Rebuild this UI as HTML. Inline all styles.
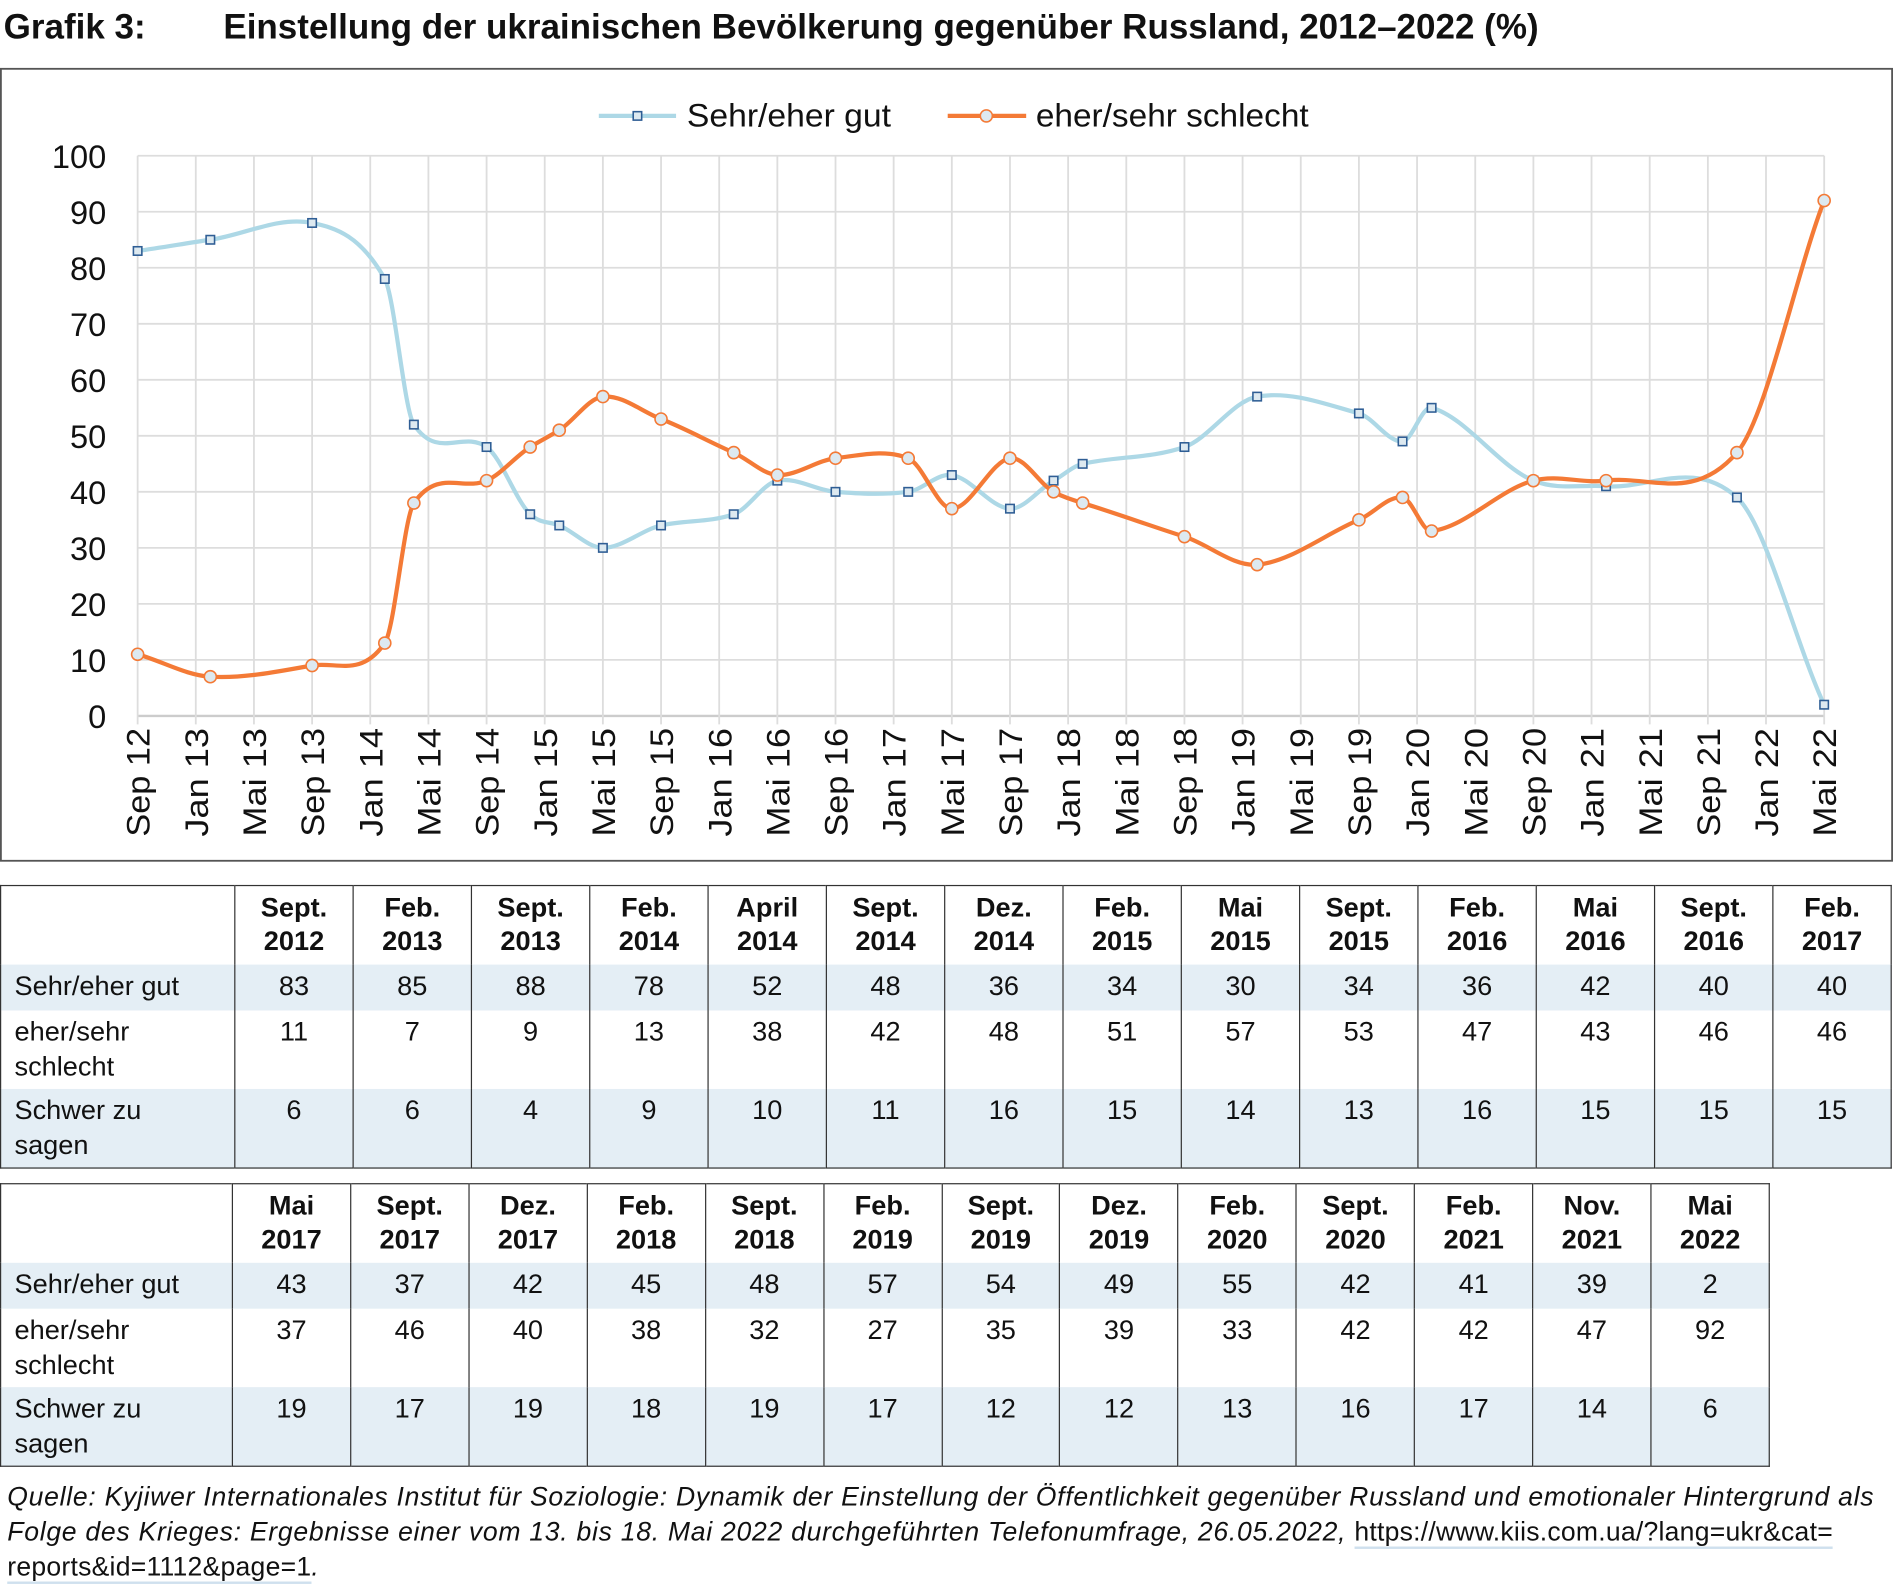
<!DOCTYPE html>
<html><head><meta charset="utf-8">
<style>
html,body{margin:0;padding:0;background:#fff;}
body{width:1893px;height:1594px;overflow:hidden;}
#w{width:1568px;height:1320px;transform:scale(1.20727);transform-origin:0 0;position:relative;font-family:"Liberation Sans",sans-serif;color:#111;}
.t{position:absolute;white-space:nowrap;}
table{position:absolute;border-collapse:collapse;font-size:22.5px;table-layout:fixed;}
td{border-left:1.5px solid #333;text-align:center;vertical-align:top;padding:3px 0 0 0;line-height:29px;}
td:first-child{text-align:left;padding-left:11px;border-left:none;}
tr.h td{font-weight:bold;height:61px;line-height:28px;padding-top:4px;}
tr.b td{background:#e4eef5;}
</style></head><body><div id="w">
<div class="t" style="left:3px;top:7px;font-size:29px;font-weight:bold;">Grafik 3:</div>
<div class="t" style="left:185px;top:7px;font-size:29px;font-weight:bold;">Einstellung der ukrainischen Bevölkerung gegenüber Russland, 2012–2022 (%)</div>
<svg id="c" style="position:absolute;left:0;top:0" width="1568" height="720"></svg>

<table style="left:0;top:733px;width:1567px;border:1.5px solid #333;">
<colgroup><col style="width:194px"><col span="14"></colgroup>
<tr class="h"><td></td><td>Sept.<br>2012</td><td>Feb.<br>2013</td><td>Sept.<br>2013</td><td>Feb.<br>2014</td><td>April<br>2014</td><td>Sept.<br>2014</td><td>Dez.<br>2014</td><td>Feb.<br>2015</td><td>Mai<br>2015</td><td>Sept.<br>2015</td><td>Feb.<br>2016</td><td>Mai<br>2016</td><td>Sept.<br>2016</td><td>Feb.<br>2017</td></tr>
<tr class="b"><td style="height:35px">Sehr/eher gut</td><td>83</td><td>85</td><td>88</td><td>78</td><td>52</td><td>48</td><td>36</td><td>34</td><td>30</td><td>34</td><td>36</td><td>42</td><td>40</td><td>40</td></tr>
<tr><td style="height:62px">eher/sehr<br>schlecht</td><td>11</td><td>7</td><td>9</td><td>13</td><td>38</td><td>42</td><td>48</td><td>51</td><td>57</td><td>53</td><td>47</td><td>43</td><td>46</td><td>46</td></tr>
<tr class="b"><td style="height:62px">Schwer zu<br>sagen</td><td>6</td><td>6</td><td>4</td><td>9</td><td>10</td><td>11</td><td>16</td><td>15</td><td>14</td><td>13</td><td>16</td><td>15</td><td>15</td><td>15</td></tr>
</table>

<table style="left:0;top:980px;width:1466px;border:1.5px solid #333;">
<colgroup><col style="width:192px"><col span="13"></colgroup>
<tr class="h"><td></td><td>Mai<br>2017</td><td>Sept.<br>2017</td><td>Dez.<br>2017</td><td>Feb.<br>2018</td><td>Sept.<br>2018</td><td>Feb.<br>2019</td><td>Sept.<br>2019</td><td>Dez.<br>2019</td><td>Feb.<br>2020</td><td>Sept.<br>2020</td><td>Feb.<br>2021</td><td>Nov.<br>2021</td><td>Mai<br>2022</td></tr>
<tr class="b"><td style="height:35px">Sehr/eher gut</td><td>43</td><td>37</td><td>42</td><td>45</td><td>48</td><td>57</td><td>54</td><td>49</td><td>55</td><td>42</td><td>41</td><td>39</td><td>2</td></tr>
<tr><td style="height:62px">eher/sehr<br>schlecht</td><td>37</td><td>46</td><td>40</td><td>38</td><td>32</td><td>27</td><td>35</td><td>39</td><td>33</td><td>42</td><td>42</td><td>47</td><td>92</td></tr>
<tr class="b"><td style="height:62px">Schwer zu<br>sagen</td><td>19</td><td>17</td><td>19</td><td>18</td><td>19</td><td>17</td><td>12</td><td>12</td><td>13</td><td>16</td><td>17</td><td>14</td><td>6</td></tr>
</table>

<div class="t" style="left:6px;top:1225px;font-size:22px;font-style:italic;line-height:29px;letter-spacing:0.6px;">Quelle: Kyjiwer Internationales Institut für Soziologie: Dynamik der Einstellung der Öffentlichkeit gegenüber Russland und emotionaler Hintergrund als<br>Folge des Krieges: Ergebnisse einer vom 13. bis 18. Mai 2022 durchgeführten Telefonumfrage, 26.05.2022, <span style="border-bottom:2px solid #cfe0ee;font-style:normal;letter-spacing:0.2px">https://www.kiis.com.ua/?lang=ukr&amp;cat=</span><br><span style="border-bottom:2px solid #cfe0ee;font-style:normal;letter-spacing:0.2px">reports&amp;id=1112&amp;page=1</span>.</div>
</div>
<script>
var s=document.getElementById('c'),h='';
var X0=114,MX=12.043,Y0=593,YU=4.64;
function X(m){return X0+m*MX}function Y(v){return Y0-v*YU}
h+='<rect x="0.75" y="57" width="1566.5" height="656" fill="none" stroke="#555" stroke-width="1.5"/>';
for(var i=0;i<=10;i++){var y=Y(i*10);h+='<line x1="114" x2="1511" y1="'+y+'" y2="'+y+'" stroke="'+(i==0?'#ccc':'#ddd')+'" stroke-width="'+(i==0?2:1.5)+'"/>';
h+='<text x="88" y="'+(y+10)+'" text-anchor="end" font-size="27" fill="#111">'+(i*10)+'</text>';}
var mn=['Sep','Jan','Mai'];
for(var k=0;k<30;k++){var x=X(k*4);var yr=12+Math.floor((k+2)/3);var nm=mn[k%3]+' '+yr;
h+='<line x1="'+x+'" x2="'+x+'" y1="129" y2="600" stroke="#ddd" stroke-width="1.5"/>';
h+='<text transform="translate('+(x+10)+',603) rotate(-90)" text-anchor="end" font-size="27" fill="#111" textLength="90" lengthAdjust="spacingAndGlyphs">'+nm+'</text>';}
var m=[0,5,12,17,19,24,27,29,32,36,41,44,48,53,56,60,63,65,72,77,84,87,89,96,101,110,116];
var g=[83,85,88,78,52,48,36,34,30,34,36,42,40,40,43,37,42,45,48,57,54,49,55,42,41,39,2];
var b=[11,7,9,13,38,42,48,51,57,53,47,43,46,46,37,46,40,38,32,27,35,39,33,42,42,47,92];
function path(v){var p=m.map(function(mm,i){return[X(mm),Y(v[i])]});var d='M'+p[0][0]+','+p[0][1];var t=0.3;
for(var i=0;i<p.length-1;i++){var p0=p[i-1]||p[i],p1=p[i],p2=p[i+1],p3=p[i+2]||p2;
var c1=[0,p1[1]+(p2[1]-p0[1])*t*(p2[0]-p1[0])/Math.max(1,(p2[0]-p0[0]))];
var c2=[0,p2[1]-(p3[1]-p1[1])*t*(p2[0]-p1[0])/Math.max(1,(p3[0]-p1[0]))];
c1[0]=p1[0]+(p2[0]-p1[0])/3;c2[0]=p2[0]-(p2[0]-p1[0])/3;
d+=' C'+c1[0]+','+c1[1]+' '+c2[0]+','+c2[1]+' '+p2[0]+','+p2[1];}return d;}
h+='<path d="'+path(g)+'" fill="none" stroke="#add8e6" stroke-width="3.5"/>';
h+='<path d="'+path(b)+'" fill="none" stroke="#f47a36" stroke-width="3.5"/>';
m.forEach(function(mm,i){var x=X(mm);h+='<rect x="'+(x-3.5)+'" y="'+(Y(g[i])-3.5)+'" width="7" height="7" fill="#dde9f0" stroke="#2f5e95" stroke-width="1.3"/>';});
m.forEach(function(mm,i){var x=X(mm);h+='<circle cx="'+x+'" cy="'+Y(b[i])+'" r="5" fill="#dde9f0" stroke="#f47a36" stroke-width="1.3"/>';});
h+='<line x1="496" x2="560" y1="96" y2="96" stroke="#add8e6" stroke-width="3.5"/><rect x="524.5" y="92.5" width="7" height="7" fill="#dde9f0" stroke="#2f5e95" stroke-width="1.3"/>';
h+='<text x="569" y="105" font-size="27" fill="#111" textLength="169" lengthAdjust="spacingAndGlyphs">Sehr/eher gut</text>';
h+='<line x1="785" x2="850" y1="96" y2="96" stroke="#f47a36" stroke-width="3.5"/><circle cx="817" cy="96" r="5" fill="#dde9f0" stroke="#f47a36" stroke-width="1.3"/>';
h+='<text x="858" y="105" font-size="27" fill="#111" textLength="226" lengthAdjust="spacingAndGlyphs">eher/sehr schlecht</text>';
s.innerHTML=h;
</script>
</body></html>
